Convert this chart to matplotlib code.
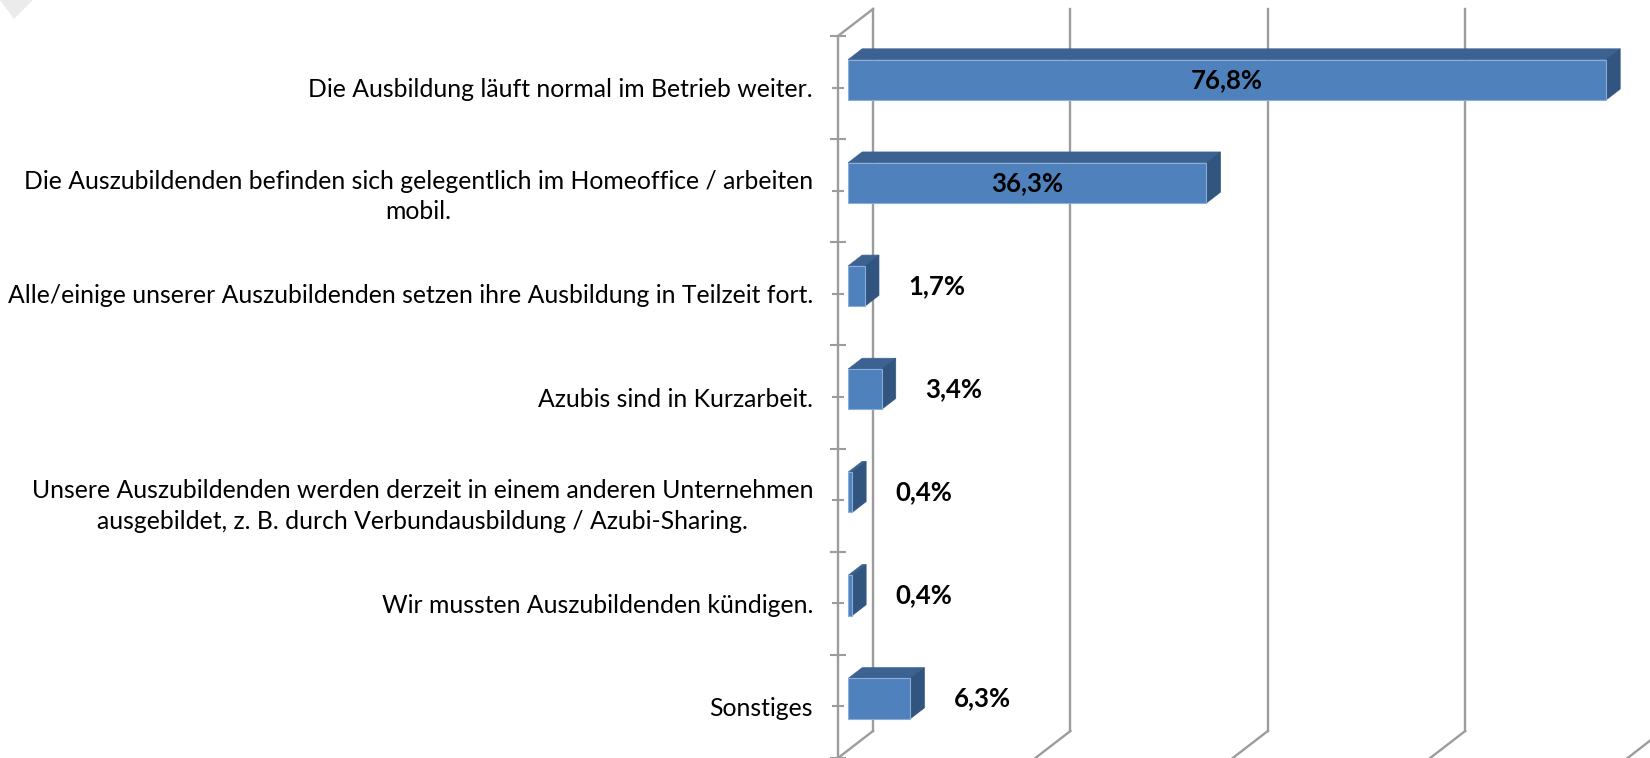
import matplotlib.pyplot as plt
from matplotlib.patches import Polygon

categories = [
    "Die Ausbildung läuft normal im Betrieb weiter.",
    "Die Auszubildenden befinden sich gelegentlich im Homeoffice / arbeiten\nmobil.",
    "Alle/einige unserer Auszubildenden setzen ihre Ausbildung in Teilzeit fort.",
    "Azubis sind in Kurzarbeit.",
    "Unsere Auszubildenden werden derzeit in einem anderen Unternehmen\nausgebildet, z. B. durch Verbundausbildung / Azubi-Sharing.",
    "Wir mussten Auszubildenden kündigen.",
    "Sonstiges",
]
values = [76.8, 36.3, 1.7, 3.4, 0.4, 0.4, 6.3]
value_labels = ["76,8%", "36,3%", "1,7%", "3,4%", "0,4%", "0,4%", "6,3%"]
grid_values = [0, 20, 40, 60, 80]

plt.rcParams['font.family'] = ['Lato', 'DejaVu Sans']

# fake 3d: how far the back wall is shifted (x in %, y in category units)
DX = 3.55
DY = 0.262
D0, D1 = 0.29, 0.69   # depth of bar front / back
H = 0.39              # bar thickness
GRID = '#9C9C9C'
FRONT = '#4F81BD'
TOP = '#3C6292'
SIDE = '#32557F'

fig = plt.figure(figsize=(16.5, 7.58), dpi=100)
ax = fig.add_axes([838 / 1650, 0, 812 / 1650, 722 / 758])
ax.set_xlim(0, 82.27)
ax.set_ylim(6.5, -0.5)
n = len(categories)


def sh(x, y, d):
    return (x + DX * d, y - DY * d)


# back wall gridlines + floor diagonals
for g in grid_values:
    ax.plot([g + DX, g + DX], [-0.5 - DY, n - 0.5 - DY], color=GRID, lw=1.7,
            clip_on=False, zorder=1)
    ax.plot([g + DX, g], [n - 0.5 - DY, n - 0.5], color=GRID, lw=1.7,
            clip_on=False, zorder=1)
ax.plot([0, DX], [-0.5, -0.5 - DY], color=GRID, lw=1.7, clip_on=False, zorder=1)

for i, v in enumerate(values):
    yt, yb = i - H / 2, i + H / 2
    front = [sh(0, yt, D0), sh(v, yt, D0), sh(v, yb, D0), sh(0, yb, D0)]
    top = [sh(0, yt, D0), sh(v, yt, D0), sh(v, yt, D1), sh(0, yt, D1)]
    side = [sh(v, yt, D0), sh(v, yt, D1), sh(v, yb, D1), sh(v, yb, D0)]
    ax.add_patch(Polygon(top, closed=True, fc=TOP, ec=TOP, lw=0.5, zorder=3))
    ax.add_patch(Polygon(side, closed=True, fc=SIDE, ec=SIDE, lw=0.5, zorder=3))
    ax.add_patch(Polygon(front, closed=True, fc=FRONT, ec='#8AAEDA', lw=0.8, zorder=4))
    cx, cy = sh(v / 2, i, D0)
    if v > 20:
        ax.text(cx, cy, value_labels[i], ha='center', va='center',
                fontsize=18.5, fontweight='bold', color='black', zorder=5)
    else:
        ex, ey = sh(v, i, D0)
        ax.text(ex + 7.3, ey, value_labels[i], ha='center', va='center',
                fontsize=18.5, fontweight='bold', color='black', zorder=5)

ax.set_xticks([])
ax.set_yticks(range(n), categories, fontsize=17.8)
ax.set_yticks([i - 0.5 for i in range(n + 1)], minor=True)
ax.tick_params(axis='y', which='major', direction='inout', length=8,
               width=1.5, color=GRID, pad=14)
ax.tick_params(axis='y', which='minor', direction='inout', length=11,
               width=1.5, color=GRID)
for lbl in ax.get_yticklabels():
    lbl.set_multialignment('center')
    lbl.set_linespacing(1.4)

for s in ['top', 'right', 'bottom']:
    ax.spines[s].set_visible(False)
ax.spines['left'].set_color(GRID)
ax.spines['left'].set_linewidth(1.7)
ax.patch.set_visible(False)

# leftover grey corner in the original screenshot
fig.add_artist(Polygon([(0, 1), (33 / 1650, 1), (14 / 1650, 1 - 19 / 758)],
                       closed=True, fc='#EBEBEB', ec='none',
                       transform=fig.transFigure))

fig.savefig('out.png', dpi=100)
